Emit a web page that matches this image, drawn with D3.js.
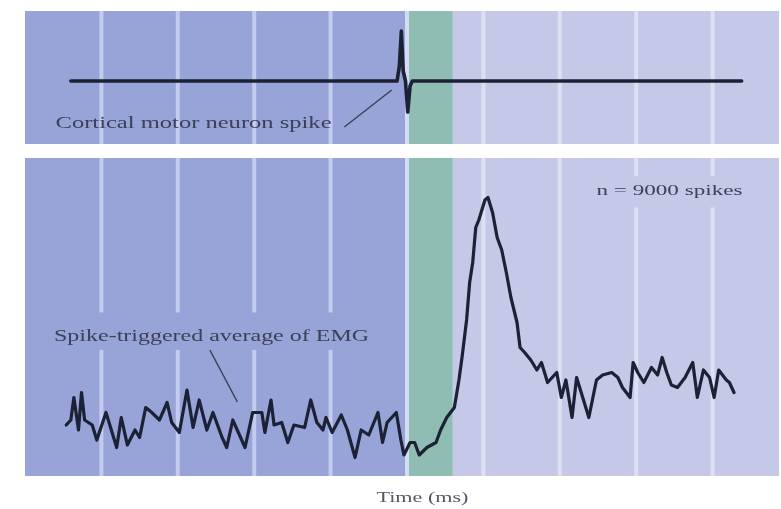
<!DOCTYPE html>
<html>
<head>
<meta charset="utf-8">
<script src="https://cdn.jsdelivr.net/npm/d3@7"></script>
<style>
  body { margin: 0; background: #fff; }
  text { font-family: "Liberation Serif", "DejaVu Serif", serif; }
</style>
</head>
<body>
<svg id="chart" width="781" height="509"></svg>
<script>
// ---- data (time in ms, spike at t = 0) ----
const spikeTime  = [-22.0, -0.65, -0.5, -0.37, -0.25, -0.1, 0.05, 0.2, 0.35, 21.9];
const spikeValue = [0, 0, 0.3, 1.0, 0.2, 0, -0.62, -0.1, 0, 0];

const emgTime = [
  -22.3, -22.0, -21.8, -21.5, -21.3, -21.1, -20.6, -20.3, -19.7, -19.3,
  -19.0, -18.7, -18.3, -17.8, -17.5, -17.1, -16.7, -16.2, -15.7, -15.4,
  -14.9, -14.4, -14.0, -13.6, -13.1, -12.7, -12.1, -11.8, -11.4, -10.6,
  -10.1, -9.5, -9.3, -8.9, -8.7, -8.2, -7.8, -7.4, -6.7, -6.3,
  -5.9, -5.5, -5.3, -4.9, -4.3, -3.9, -3.4, -3.0, -2.5, -1.9,
  -1.6, -1.3, -0.7, -0.4, -0.2, 0.2, 0.5, 0.8, 1.3, 1.9,
  2.2, 2.6, 3.1, 3.4, 3.6, 3.9, 4.1, 4.3, 4.5, 4.7,
  5.1, 5.3, 5.6, 5.9, 6.2, 6.5, 6.8, 7.2, 7.4, 7.7,
  8.1, 8.5, 8.8, 9.2, 9.8, 10.1, 10.4, 10.8, 11.1, 11.5,
  11.9, 12.4, 12.8, 13.4, 13.8, 14.1, 14.6, 14.8, 15.1, 15.5,
  16.0, 16.4, 16.7, 17.0, 17.3, 17.7, 18.2, 18.7, 19.0, 19.4,
  19.8, 20.1, 20.4, 20.9, 21.1, 21.4
];
const emgValue = [
  1.8, 2.0, 2.9, 1.6, 3.1, 2.0, 1.8, 1.2, 2.3, 1.5,
  0.9, 2.1, 1.0, 1.6, 1.3, 2.5, 2.3, 2.0, 2.7, 1.9,
  1.5, 3.2, 1.7, 2.8, 1.6, 2.3, 1.3, 0.9, 2.0, 0.9,
  2.3, 2.3, 1.5, 2.8, 1.8, 1.9, 1.1, 1.8, 1.7, 2.8,
  1.9, 1.6, 2.1, 1.5, 2.2, 1.6, 0.5, 1.6, 1.4, 2.3,
  1.1, 1.9, 2.3, 1.2, 0.6, 1.1, 1.1, 0.6, 0.9, 1.1,
  1.6, 2.1, 2.5, 3.6, 4.5, 6.0, 7.5, 8.3, 9.7, 10.0,
  10.8, 10.9, 10.3, 9.3, 8.8, 7.9, 6.9, 5.9, 4.9, 4.7,
  4.4, 4.0, 4.3, 3.5, 3.9, 2.9, 3.6, 2.1, 3.7, 2.9,
  2.1, 3.6, 3.8, 3.9, 3.7, 3.3, 2.9, 4.3, 3.9, 3.5,
  4.1, 3.8, 4.5, 3.9, 3.4, 3.3, 3.7, 4.3, 2.9, 4.0,
  3.7, 2.9, 4.0, 3.6, 3.5, 3.1
];

const gridTimes = [-20, -15, -10, -5, 0, 5, 10, 15, 20];

// background phases: before spike, latency window, after
const phaseNames = ["pre", "latency", "post"];
const phaseStart = [-25, 0, 3];
const phaseEnd   = [0, 3, 25];

const spikeLabel = "Cortical motor neuron spike";
const emgLabel = "Spike-triggered average of EMG";
const countLabel = "n = 9000 spikes";
const xLabel = "Time (ms)";

// ---- styles ----
const phaseColor = { pre: "#98a4d8", latency: "#8fbdb4", post: "#c5c8e6" };
const gridColor  = { pre: "#c3cbef", latency: "#d3dcf2", post: "#dde0f3" };
const traceColor = "#1d2035";
const labelColor = "#3c4058";

const svg = d3.select("#chart");

const x = d3.scaleLinear().domain([-25, 25]).range([25, 789]);
const panelLeft = 23, panelRight = 779;

const topPanel = { y0: 11, y1: 144 };
const botPanel = { y0: 158, y1: 476 };

const yTop = d3.scaleLinear().domain([-1.26, 1.4]).range([topPanel.y1, topPanel.y0]);
const yBot = d3.scaleLinear().domain([-0.24, 12.48]).range([botPanel.y1, botPanel.y0]);

const defs = svg.append("defs");
defs.append("filter").attr("id", "soft")
  .append("feGaussianBlur").attr("stdDeviation", 0.6);

function phaseOf(t) {
  return t < 0 ? "pre" : (t < 3 ? "latency" : "post");
}

function drawPanel(id, p) {
  defs.append("clipPath").attr("id", "clip-" + id)
    .append("rect")
    .attr("x", panelLeft).attr("y", p.y0)
    .attr("width", panelRight - panelLeft).attr("height", p.y1 - p.y0);

  const g = svg.append("g")
    .attr("clip-path", `url(#clip-${id})`)
    .attr("filter", "url(#soft)");

  // background phases
  g.selectAll("rect.phase")
    .data(phaseNames)
    .join("rect")
    .attr("class", "phase")
    .attr("x", (d, i) => x(phaseStart[i]))
    .attr("width", (d, i) => x(phaseEnd[i]) - x(phaseStart[i]))
    .attr("y", p.y0)
    .attr("height", p.y1 - p.y0)
    .attr("fill", d => phaseColor[d]);

  // white-ish vertical grid lines
  g.selectAll("line.grid")
    .data(gridTimes)
    .join("line")
    .attr("class", "grid")
    .attr("x1", d => x(d)).attr("x2", d => x(d))
    .attr("y1", p.y0).attr("y2", p.y1)
    .attr("stroke", d => d === 0 ? gridColor.latency : gridColor[phaseOf(d)])
    .attr("stroke-width", 4);

  return g;
}

// ---- top panel: single spike ----
const gTop = drawPanel("top", topPanel);

gTop.append("path")
  .datum(spikeTime.map((t, i) => [t, spikeValue[i]]))
  .attr("d", d3.line().x(d => x(d[0])).y(d => yTop(d[1])))
  .attr("fill", "none")
  .attr("stroke", traceColor)
  .attr("stroke-width", 3.6)
  .attr("stroke-linejoin", "round")
  .attr("stroke-linecap", "round");

gTop.append("line")
  .attr("x1", x(-4.1)).attr("y1", yTop(-0.92))
  .attr("x2", x(-1.0)).attr("y2", yTop(-0.18))
  .attr("stroke", labelColor).attr("stroke-width", 1.5);

gTop.append("text")
  .attr("x", x(-23.0)).attr("y", yTop(-0.94))
  .attr("font-size", 16)
  .attr("fill", labelColor)
  .attr("textLength", 276)
  .attr("lengthAdjust", "spacingAndGlyphs")
  .text(spikeLabel);

// ---- bottom panel: spike-triggered average ----
const gBot = drawPanel("bot", botPanel);

// blank band behind labels (grid lines stop there)
gBot.append("rect")
  .attr("x", x(-24)).attr("width", x(-2) - x(-24))
  .attr("y", yBot(6.3)).attr("height", yBot(4.8) - yBot(6.3))
  .attr("fill", phaseColor.pre);
gBot.append("rect")
  .attr("x", x(11.8)).attr("width", x(22.5) - x(11.8))
  .attr("y", yBot(11.75)).attr("height", yBot(10.5) - yBot(11.75))
  .attr("fill", phaseColor.post);

gBot.append("path")
  .datum(emgTime.map((t, i) => [t, emgValue[i]]))
  .attr("d", d3.line().x(d => x(d[0])).y(d => yBot(d[1])))
  .attr("fill", "none")
  .attr("stroke", traceColor)
  .attr("stroke-width", 3.2)
  .attr("stroke-linejoin", "round")
  .attr("stroke-linecap", "round");

gBot.append("line")
  .attr("x1", x(-12.9)).attr("y1", yBot(4.8))
  .attr("x2", x(-11.1)).attr("y2", yBot(2.72))
  .attr("stroke", labelColor).attr("stroke-width", 1.5);

gBot.append("text")
  .attr("x", x(-23.1)).attr("y", yBot(5.16))
  .attr("font-size", 16)
  .attr("fill", labelColor)
  .attr("textLength", 315)
  .attr("lengthAdjust", "spacingAndGlyphs")
  .text(emgLabel);

gBot.append("text")
  .attr("x", x(12.4)).attr("y", yBot(11.0))
  .attr("font-size", 14)
  .attr("fill", labelColor)
  .attr("textLength", 146)
  .attr("lengthAdjust", "spacingAndGlyphs")
  .text(countLabel);

// ---- axis title ----
svg.append("text")
  .attr("x", x(-2.0)).attr("y", 502)
  .attr("font-size", 15)
  .attr("fill", "#55586a")
  .attr("filter", "url(#soft)")
  .attr("textLength", 92)
  .attr("lengthAdjust", "spacingAndGlyphs")
  .text(xLabel);
</script>
</body>
</html>
